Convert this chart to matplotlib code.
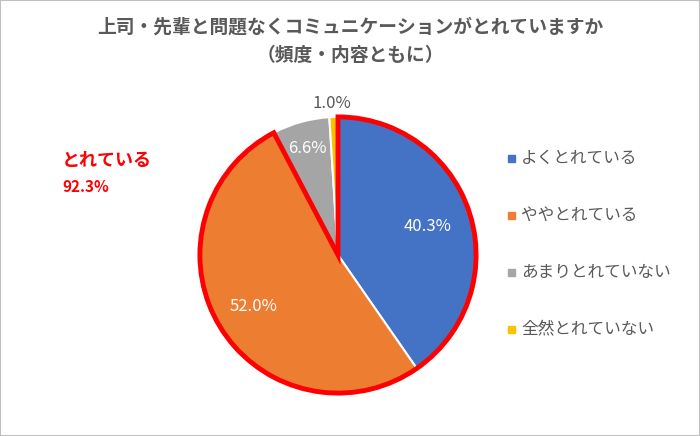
import numpy as np
import matplotlib
matplotlib.use("Agg")
import matplotlib.pyplot as plt
from matplotlib.patches import Wedge, Rectangle

plt.rcParams["font.family"] = "Noto Sans CJK JP"

categories = ["よくとれている", "ややとれている", "あまりとれていない", "全然とれていない"]
values = [40.3, 52.0, 6.6, 1.0]
colors = ["#4472C4", "#ED7D31", "#A5A5A5", "#FFC000"]
label_dist = [0.68, 0.72, 0.80, 1.10]
title = "上司・先輩と問題なくコミュニケーションがとれていますか\n（頻度・内容ともに）"
group_label = "とれている"
group_value = values[0] + values[1]

fig = plt.figure(figsize=(7.0, 4.36), dpi=100)
fig.patches.append(Rectangle((0, 0), 1, 1, transform=fig.transFigure,
                             fill=False, edgecolor="#BFBFBF", linewidth=1.5))
fig.text(0.5, 0.905, title, ha="center", va="center", fontsize=13.5,
         color="#595959", fontweight="bold", linespacing=1.6)

r_px = 145
cx, cy = 338 / 700, 1 - 255 / 436
ax = fig.add_axes([cx - r_px / 700, cy - r_px / 436, 2 * r_px / 700, 2 * r_px / 436])
wedges, _ = ax.pie(values, colors=colors, startangle=90, counterclock=False,
                   wedgeprops=dict(edgecolor="white", linewidth=1.5))
ax.set_xlim(-1.05, 1.05); ax.set_ylim(-1.05, 1.05)
ax.set_aspect("equal")

start = 90.0
for v, d in zip(values, label_dist):
    mid = np.deg2rad(start - v * 3.6 / 2)
    ax.text(d * np.cos(mid), d * np.sin(mid), f"{v:.1f}%", ha="center", va="center",
            fontsize=12, color="white" if d < 1 else "#595959")
    start -= v * 3.6

# red outline around the "とれている" group
ax.add_patch(Wedge((0, 0), 1.0, 90 - group_value * 3.6, 90, fill=False,
                   edgecolor="#FF0000", linewidth=3.5, joinstyle="miter", zorder=5))

fig.text(62 / 700, 1 - 160 / 436, group_label, color="#FF0000", fontsize=13,
         fontweight="bold", va="center")
fig.text(62 / 700, 1 - 187 / 436, f"{group_value:.1f}%", color="#FF0000", fontsize=11,
         fontweight="bold", va="center")

for i, (c, col) in enumerate(zip(categories, colors)):
    y = 1 - (158 + i * 57) / 436
    fig.patches.append(Rectangle((508 / 700, y - 0.009), 7 / 700, 7 / 436,
                                 transform=fig.transFigure, color=col))
    fig.text(521 / 700, y, c, fontsize=12, color="#595959", va="center")

fig.savefig("out.png", dpi=100)
